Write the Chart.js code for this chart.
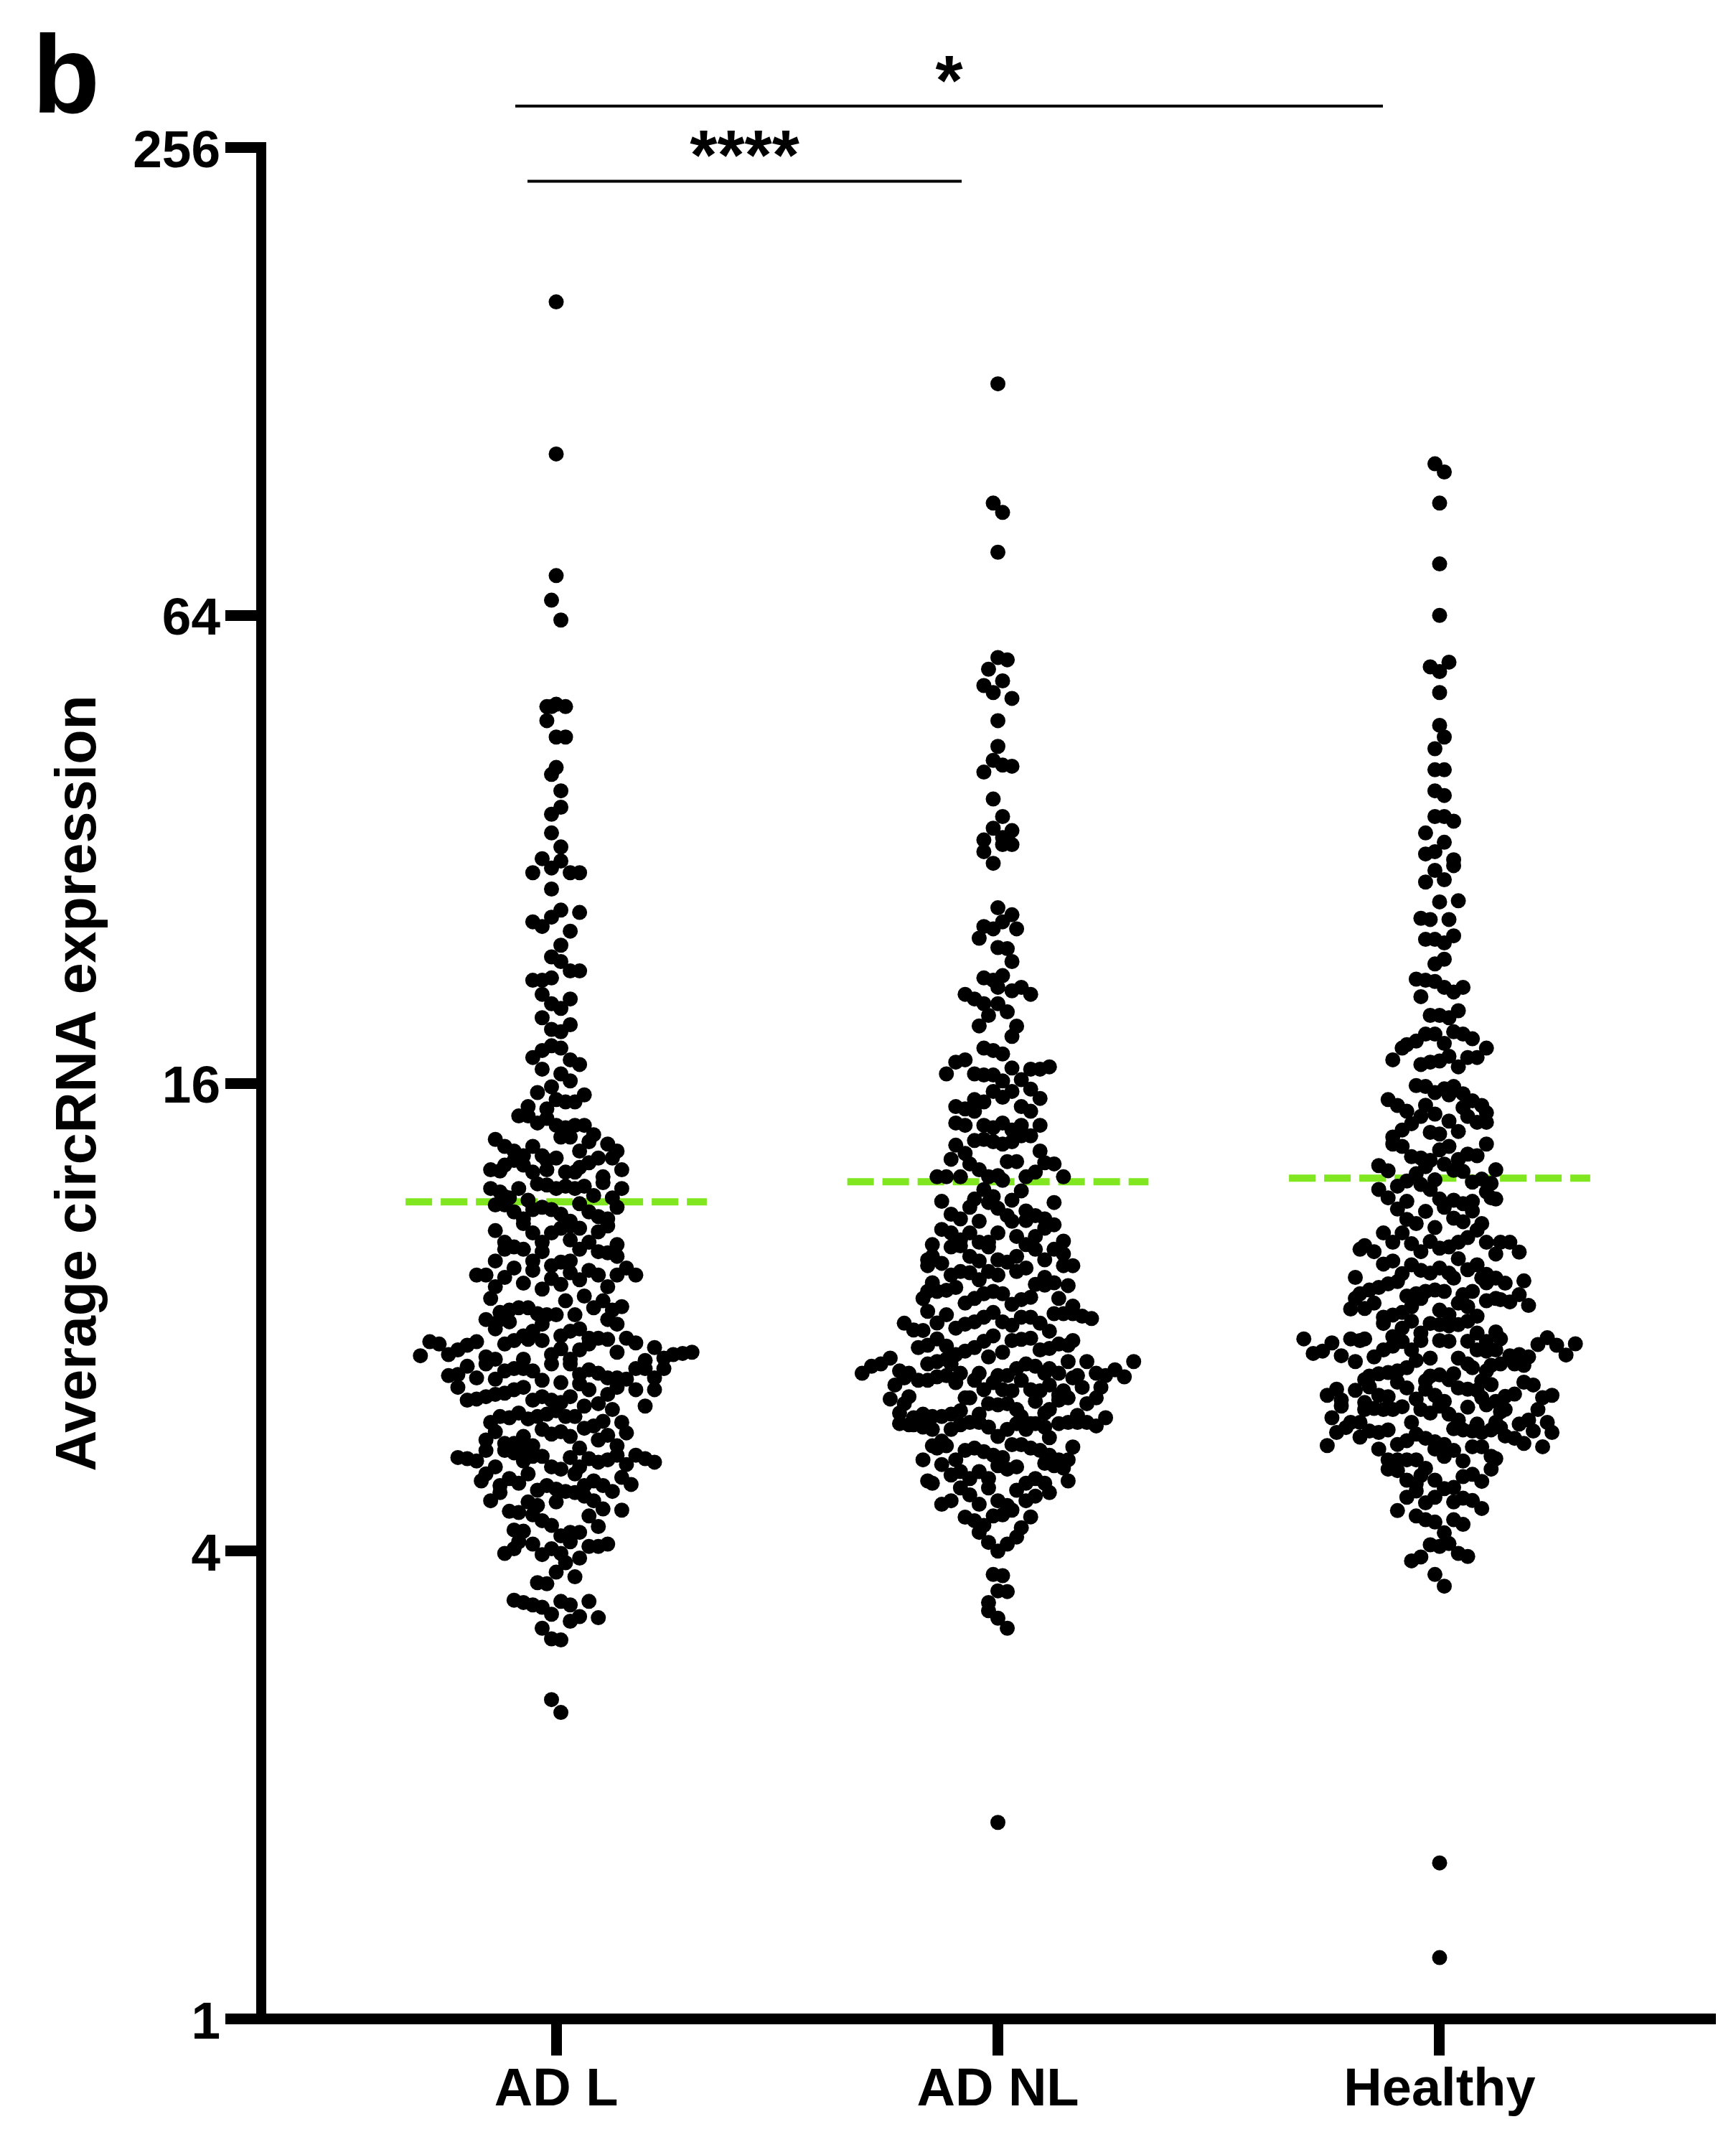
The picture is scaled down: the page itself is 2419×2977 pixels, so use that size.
<!DOCTYPE html>
<html><head><meta charset="utf-8"><style>html,body{margin:0;padding:0;background:#fff}canvas{display:block}</style>
<script src="https://cdn.jsdelivr.net/npm/chart.js@4"></script></head><body>
<canvas id="c" width="2419" height="2977"></canvas>
<script>
const categories = ["AD L","AD NL","Healthy"];
const yTicks = [1,4,16,64,256];
const medians = [11.26,11.95,12.08];
const yTitle = "Average circRNA expression";
const panelLabel = "b";
// each pair: [swarm slot beside the group centre, log2(expression)]
const adL = [[0,7.34],[0,6.69],[0,6.17],[-1,6.065],[1,5.98],[0,5.62],[-2,5.61],[2,5.61],[-1,5.61],[-2,5.55],[0,5.48],[2,5.48],[0,5.35],[-1,5.32],[1,5.25],[1,5.18],[-1,5.15],[-1,5.07],[1,5.01],[-3,4.96],[1,4.95],
[-5,4.90],[-1,4.92],[3,4.90],[5,4.90],[-1,4.83],[1,4.74],[-1,4.71],[5,4.73],[-5,4.69],[-3,4.67],[3,4.65],[1,4.59],[-1,4.54],[1,4.52],[3,4.48],[5,4.48],[-5,4.44],[-3,4.44],[-1,4.45],[-3,4.38],[-1,4.34],[1,4.32],[3,4.36],[-3,4.28],[-1,4.23],[1,4.22],[3,4.25],[-1,4.16],[1,4.15],[-3,4.14],[-5,4.11],[3,4.10],[5,4.08],[-3,4.06],[1,4.04],[3,4.01],[-1,3.985],[-4,3.96],[6,3.95],[0,3.93],[2,3.92],[4,3.92],[-6,3.90],[-2,3.89],[-8,3.86],[-6,3.86],[-4,3.83],[-2,3.85],[0,3.82],[2,3.81],[4,3.82],[6,3.82],[1,3.77],[3,3.77],[8,3.78],[7,3.75],[5,3.71],[-13,3.76],[-11,3.73],[-9,3.71],[-7,3.69],[-5,3.73],[11,3.74],[13,3.71],[12,3.68],[-3,3.69],[0,3.68],[-2,3.67],[9,3.68],[7,3.66],[5,3.64],[4,3.62],[2,3.62],[-9,3.67],[-11,3.65],[-14,3.63],[-12,3.625],[-7,3.65],[-5,3.62],[-2,3.63],[14,3.63],[10,3.60],[10,3.575],[-4,3.57],[-2,3.565],[0,3.55],[2,3.56],[4,3.55],[6,3.56],[-14,3.55],[-12,3.535],[-8,3.55],[14,3.55],[8,3.52],[12,3.51],[-10,3.51],
[-13,3.48],[-11,3.515],[-11,3.48],[-9,3.45],[-7,3.42],[-6,3.50],[-5,3.46],[-3,3.47],[-1,3.46],[1,3.44],[3,3.41],[5,3.485],[7,3.45],[9,3.43],[11,3.42],[13,3.47],
[-13,3.37],[-7,3.40],[-5,3.36],[-1,3.36],[1,3.38],[3,3.39],[5,3.38],[9,3.365],[11,3.39],[-11,3.32],[-9,3.30],[-7,3.29],[-11,3.29],[-3,3.32],[-3,3.28],[3,3.33],[7,3.32],[5,3.29],[9,3.28],[13,3.31],[11,3.275],[13,3.26],[-13,3.24],[-5,3.24],[3,3.24],[1,3.235],[-1,3.22],[-9,3.21],[-5,3.20],[7,3.20],[9,3.18],[15,3.21],[-11,3.17],[-17,3.18],[-15,3.18],[-1,3.165],[3,3.19],[13,3.18],[17,3.18],[5,3.16],[-13,3.13],[-7,3.145],[1,3.14],[-3,3.12],[11,3.13],[6,3.09],[-14,3.08],[2,3.07],[10,3.07],[14,3.045],[8,3.04],[12,3.03],[-12,3.02],[-10,3.03],[-8,3.04],[-6,3.04],[-4,3.015],[-2,3.01],[0,3.01],[4,3.01],[-15,2.99],[-10,2.98],[-12,2.99],[11,2.99],[13,2.97],[-13,2.95],[-3,2.97],[-5,2.94],[5,2.95],[-7,2.92],[-9,2.90],[-11,2.885],[-3,2.90],[1,2.92],[3,2.94],[7,2.91],[9,2.91],[11,2.905],[15,2.91],[17,2.89],[-27,2.895],[-25,2.885],[-17,2.895],[-19,2.88],[-21,2.86],[-23,2.84],[-29,2.835],[-6,2.905],[1,2.865],[5,2.86],[7,2.885],[13,2.85],[21,2.87],[29,2.85],[27,2.845],[25,2.84],[23,2.825],[-15,2.83],[-13,2.82],[-7,2.82],[-1,2.84],[3,2.82],[19,2.815],[-15,2.80],[-1,2.80],[3,2.80],[23,2.78],[17,2.78],[19,2.78],[-19,2.79],[-21,2.755],[-23,2.75],[-9,2.78],[-7,2.78],[-11,2.77],[-5,2.77],[7,2.775],[9,2.76],[5,2.755],[-17,2.74],[-13,2.735],[-3,2.73],[1,2.72],[21,2.74],[11,2.74],[13,2.74],[15,2.735],[-21,2.70],[-7,2.70],[-9,2.69],[-11,2.675],[-13,2.67],[-15,2.66],[-17,2.65],[-19,2.645],[21,2.69],[17,2.69],[13,2.70],[5,2.715],[7,2.69],[11,2.67],[3,2.66],[-5,2.645],[-3,2.66],[-1,2.645],[1,2.635],[9,2.63],[6,2.62],[12,2.605],[19,2.62],[0,2.60],[-2,2.585],[-4,2.575],[-6,2.565],[-8,2.59],[-10,2.57],[-12,2.575],[-14,2.55],[2,2.575],[4,2.575],[10,2.555],[8,2.535],[6,2.525],[14,2.55],[15,2.505],[-3,2.52],[-1,2.50],[1,2.51],[3,2.49],[-13,2.51],[-7,2.49],[-15,2.475],[11,2.495],[9,2.475],[-9,2.46],[-11,2.46],[-5,2.45],[5,2.44],[13,2.45],[-15,2.43],[-11,2.43],[-9,2.42],[-8,2.455],[-6,2.42],[-7,2.385],[-3,2.405],[-5,2.405],[-21,2.40],[-19,2.395],[-17,2.385],[3,2.40],[7,2.395],[9,2.38],[11,2.39],[13,2.41],[17,2.41],[19,2.395],[21,2.38],[15,2.37],[-13,2.36],[-15,2.33],[-16,2.30],[-1,2.36],[1,2.35],[5,2.36],[4,2.33],[-6,2.33],[-10,2.31],[-12,2.28],[-8,2.29],[14,2.315],[16,2.285],[-4,2.26],[-2,2.28],[0,2.265],[2,2.255],[4,2.25],[6,2.28],[8,2.30],[10,2.28],[12,2.255],[-12,2.25],[-14,2.215],[-6,2.21],[-4,2.195],[0,2.21],[6,2.235],[8,2.215],[10,2.18],[14,2.175],[-10,2.17],[-8,2.165],[-5,2.155],[-3,2.13],[-1,2.11],[7,2.15],[9,2.105],[-9,2.09],[-7,2.085],[3,2.08],[5,2.08],[1,2.065],[3,2.04],[-8,2.04],[-5,2.03],[-9,2.01],[-11,1.99],[-1,2.01],[-3,1.985],[1,1.99],[7,2.02],[9,2.02],[11,2.03],[5,1.97],[2,1.95],[0,1.91],[4,1.89],[-4,1.865],[-2,1.86],[-9,1.79],[-7,1.78],[-5,1.77],[-3,1.76],[1,1.785],[3,1.77],[7,1.785],[-1,1.73],[5,1.72],[3,1.70],[9,1.715],[-3,1.67],[-1,1.625],[1,1.62],[-1,1.365],[1,1.31]];
const adNL = [[0,6.99],[-1,6.48],[1,6.44],[0,6.27],[0,5.82],[2,5.81],[-2,5.77],[1,5.72],[-3,5.70],[-1,5.67],[3,5.645],[0,5.55],[0,5.44],[-1,5.38],[1,5.36],[3,5.355],[-3,5.33],[-1,5.215],[1,5.14],[-1,5.09],[3,5.08],[-3,5.04],[1,5.05],[1,5.02],[3,5.02],[-3,4.99],[-1,4.94],[0,4.75],[3,4.72],[1,4.69],[-3,4.67],[-1,4.66],[4,4.66],[-4,4.62],[0,4.58],[2,4.575],[3,4.52],[-3,4.45],[-1,4.44],[1,4.46],[0,4.41],[3,4.395],[5,4.41],[7,4.38],[-7,4.38],[-5,4.36],[-3,4.34],[0,4.34],
[-2,4.29],[2,4.305],[-4,4.245],[4,4.244],[3,4.20],[-3,4.15],[-1,4.14],[1,4.125],[-9,4.09],[-7,4.10],[3,4.065],[11,4.07],[7,4.06],[9,4.06],[-11,4.04],[-5,4.04],[-3,4.035],[-1,4.035],[1,4.01],[5,4.015],[-1,3.965],[1,3.94],[3,3.965],[7,3.975],[9,3.935],[-5,3.93],[-3,3.92],[-9,3.90],[-7,3.89],[-5,3.88],[5,3.90],[7,3.88],[-9,3.83],[-7,3.82],[1,3.83],[-3,3.82],[-1,3.81],[5,3.82],[9,3.82],[3,3.80],[7,3.775],[5,3.775],[-5,3.755],[-3,3.76],[-1,3.75],[1,3.74],[3,3.75],[-9,3.735],[-7,3.70],[9,3.71],[-10,3.675],[2,3.665],[4,3.665],[-6,3.655],[-4,3.63],[10,3.66],[12,3.655],[8,3.62],[6,3.60],[-13,3.60],[-11,3.60],[-8,3.60],[-2,3.60],[0,3.605],[1,3.585],[14,3.60],[-3,3.545],[5,3.54],[-1,3.515],[-5,3.505],[-6,3.47],[-12,3.495],[3,3.50],[12,3.49],[-2,3.49],[0,3.465],[6,3.454],[-10,3.44],[-8,3.42],[-4,3.41],[2,3.434],[8,3.434],[10,3.42],[3,3.41],[12,3.395],[10,3.38],[6,3.413],[-12,3.375],[-10,3.36],[-6,3.36],[0,3.36],[4,3.345],[8,3.345],[-8,3.33],[14,3.325],[-14,3.31],[-10,3.30],[-8,3.305],[-4,3.32],[-2,3.32],[-2,3.30],[6,3.31],[8,3.29],[12,3.29],[14,3.27],[-14,3.26],[-15,3.245],[-15,3.22],[-6,3.26],[-4,3.24],[0,3.245],[2,3.235],[4,3.26],[10,3.245],[-12,3.23],[14,3.22],[16,3.22],[-8,3.195],[-6,3.19],[-10,3.18],[-2,3.195],[0,3.18],[4,3.195],[6,3.21],[-4,3.16],[10,3.17],[12,3.147],[8,3.14],[10,3.137],[-14,3.147],[15,3.135],[-15,3.11],[-9,3.127],[-11,3.115],[-13,3.11],[-1,3.11],[1,3.10],[-3,3.10],[-16,3.08],[-5,3.08],[-7,3.06],[7,3.085],[5,3.075],[3,3.055],[13,3.08],[-15,3.025],[-11,3.01],[-13,2.975],[16,3.047],[12,3.015],[14,3.015],[16,3.015],[18,3.004],[20,2.994],[-1,3.02],[-3,3.0],[-5,2.98],[-7,2.97],[-9,2.953],[5,3.0],[7,3.0],[1,2.98],[3,2.965],[9,2.974],[11,2.94],[-20,2.974],[-18,2.945],[-16,2.943],[-1,2.92],[-3,2.897],[7,2.91],[5,2.905],[3,2.90],[16,2.90],[15,2.88],[13,2.885],[11,2.866],[9,2.86],[-13,2.907],[-15,2.88],[-17,2.87],[-11,2.876],[-5,2.87],[-7,2.855],[-2,2.83],[1,2.85],[-9,2.84],[-23,2.825],
[29,2.81],[15,2.81],[19,2.81],[-27,2.79],[-25,2.80],[-29,2.76],[6,2.80],[8,2.79],[4,2.78],[11,2.78],[-15,2.80],[-13,2.81],[-11,2.82],[-10,2.80],[-21,2.77],[-19,2.76],[-8,2.76],[-4,2.76],[0,2.75],[2,2.75],[10,2.76],[13,2.76],[17,2.75],[21,2.76],[23,2.75],[25,2.775],[27,2.745],[-11,2.75],[-13,2.745],[-15,2.73],[-17,2.73],[-20,2.74],[-22,2.71],[-5,2.73],[-9,2.72],[-1,2.72],[5,2.73],[11,2.71],[16,2.74],[18,2.70],[22,2.70],[-3,2.69],[1,2.69],[3,2.685],[7,2.69],[9,2.685],[14,2.685],[-19,2.66],[-23,2.65],[-7,2.655],[-6,2.655],[21,2.655],[13,2.666],[15,2.655],[-2,2.63],[0,2.625],[2,2.63],[8,2.64],[13,2.645],[11,2.605],[19,2.63],[-20,2.63],[4,2.605],[10,2.59],[-8,2.60],[-10,2.585],[-12,2.575],[-16,2.585],[-14,2.575],[-21,2.59],[5,2.575],[-4,2.585],[17,2.58],[23,2.57],[-18,2.57],[-21,2.545],[-19,2.54],[-18,2.54],[-16,2.53],[-14,2.52],[-6,2.55],[-8,2.54],[-10,2.52],[-4,2.55],[-2,2.53],[0,2.49],[2,2.52],[4,2.545],[7,2.545],[6,2.52],[8,2.545],[10,2.53],[13,2.545],[15,2.55],[17,2.55],[19,2.55],[21,2.535],[11,2.485],[-12,2.47],[-14,2.45],[-11,2.45],[-13,2.44],[3,2.455],[5,2.455],[7,2.44],[16,2.445],[9,2.43],[-5,2.44],[-7,2.43],[-3,2.425],[-1,2.41],[1,2.40],[11,2.41],[13,2.39],[15,2.39],[-9,2.39],[-16,2.39],[-12,2.37],[10,2.375],[12,2.365],[14,2.355],[0,2.365],[2,2.35],[4,2.36],[-10,2.325],[-8,2.34],[-4,2.34],[-6,2.31],[-2,2.31],[8,2.31],[15,2.30],[-15,2.30],[-14,2.29],[6,2.29],[10,2.29],[-2,2.27],[-8,2.27],[4,2.26],[11,2.25],[-6,2.24],[8,2.235],[6,2.215],[0,2.215],[-10,2.215],[-12,2.20],[-4,2.20],[2,2.195],[3,2.175],[1,2.155],[-1,2.15],[7,2.146],[-7,2.145],[-5,2.13],[-3,2.11],[-4,2.08],[5,2.10],[4,2.06],[2,2.03],[-2,2.037],[0,2.00],[-1,1.90],[1,1.895],[0,1.83],[2,1.827],[-2,1.78],[-2,1.745],[0,1.713],[2,1.67],[0,0.84]];
const healthy = [[-1,6.648],[1,6.613],[0,6.48],[0,6.22],[0,6.00],[-2,5.78],[2,5.80],[0,5.76],[0,5.67],[0,5.53],[1,5.48],[-1,5.43],[-1,5.34],[1,5.34],[-1,5.25],[1,5.23],[-1,5.14],[1,5.14],[3,5.12],[-3,5.07],[1,5.03],[-3,4.98],[-1,4.99],[3,4.955],[3,4.93],[-1,4.91],[1,4.87],[-3,4.86],[0,4.775],[4,4.78],[-4,4.705],[-2,4.70],[2,4.70],[-3,4.615],[-1,4.615],[3,4.63],[1,4.60],[1,4.53],[-1,4.51],[-5,4.445],[-3,4.44],[-1,4.435],[1,4.41],[5,4.41],[3,4.39],[-4,4.37],[4,4.31],[-2,4.29],[0,4.29],[2,4.28],[-3,4.21],[-1,4.21],[3,4.22],[5,4.21],[7,4.19],[1,4.17],[-5,4.18],[-7,4.165],[-8,4.15],[10,4.15],[-10,4.10],[2,4.115],[8,4.11],[6,4.11],[0,4.095],[-2,4.09],[-4,4.08],[4,4.07],
[-5,3.99],[-3,3.986],[-1,3.96],[1,3.976],[3,3.986],[2,3.95],[5,3.955],[-11,3.93],[-9,3.905],[-7,3.88],[-3,3.906],[7,3.925],[9,3.905],[5,3.896],[10,3.874],[-1,3.868],[-4,3.858],[6,3.858],[2,3.838],[8,3.833],[10,3.833],[-6,3.827],[-8,3.80],[4,3.794],[-2,3.79],[0,3.783],[-10,3.77],[-10,3.74],[-8,3.73],[10,3.74],[2,3.73],[0,3.715],[8,3.69],[6,3.697],[-6,3.686],[-4,3.68],[-2,3.67],[4,3.674],[-13,3.648],[1,3.654],[-3,3.643],[-11,3.626],[3,3.628],[5,3.623],[12,3.63],[-5,3.613],[9,3.59],[7,3.577],[11,3.572],[-1,3.587],[-7,3.582],[-4,3.567],[-9,3.56],[-13,3.546],[-2,3.546],[10,3.536],[-11,3.51],[0,3.505],[12,3.505],[11,3.51],[-7,3.495],[3,3.50],[7,3.495],[5,3.485],[-9,3.462],[1,3.47],[-3,3.452],[7,3.454],[3,3.423],[5,3.408],[-7,3.418],[-5,3.40],[9,3.40],[-1,3.383],[8,3.372],[-12,3.36],[-8,3.36],[6,3.34],[-10,3.32],[-6,3.314],[-2,3.323],[4,3.32],[10,3.32],[15,3.32],[13,3.32],[-17,3.29],[-16,3.306],[-14,3.28],[-4,3.28],[0,3.295],[2,3.30],[12,3.27],[17,3.278],[4,3.25],[-10,3.24],[-12,3.227],[-6,3.224],[-4,3.20],[-2,3.188],[0,3.21],[2,3.188],[3,3.167],[8,3.224],[6,3.203],[10,3.183],[12,3.167],[-18,3.17],[-8,3.186],[18,3.155],[9,3.168],[14,3.145],[10,3.147],[-9,3.152],[-11,3.142],[-13,3.127],[-15,3.116],[-17,3.10],[-18,3.08],[1,3.11],[-1,3.116],[-3,3.11],[-5,3.10],[-7,3.09],[7,3.11],[5,3.096],[-4,3.08],[17,3.096],[10,3.07],[12,3.08],[13,3.075],[15,3.065],[4,3.06],[6,3.045],[19,3.05],[-14,3.06],[-16,3.037],[-19,3.035],[-6,3.045],[0,3.03],[-8,3.02],[-10,3.009],[-12,3.0],[2,3.01],[8,3.004],[-6,2.983],[-12,2.973],[6,2.983],[4,2.968],[-2,2.973],[0,2.968],[2,2.963],[-8,2.953],[8,2.932],[12,2.937],[-4,2.932],[-29,2.907],[-23,2.89],[-19,2.907],[-17,2.90],[-16,2.907],[-10,2.917],[13,2.907],[6,2.897],[0,2.90],[2,2.897],[-4,2.90],[-8,2.896],[10,2.896],[23,2.912],[21,2.883],[29,2.886],[25,2.88],
[-27,2.845],[-25,2.855],[-21,2.835],[-18,2.81],[-14,2.83],[-12,2.86],[-10,2.876],[-6,2.86],[-5,2.815],[-2,2.825],[4,2.825],[6,2.80],[7,2.784],[8,2.86],[10,2.855],[12,2.86],[27,2.838],[19,2.83],[17,2.84],[15,2.835],[13,2.80],[18,2.794],[16,2.80],[11,2.794],[10,2.77],[-7,2.784],[-9,2.77],[-11,2.763],[-13,2.758],[-15,2.748],[-16,2.733],[-2,2.748],[0,2.753],[3,2.758],[2,2.733],[-3,2.727],[9,2.727],[11,2.712],[18,2.722],[20,2.71],[-9,2.722],[-15,2.702],[-3,2.692],[4,2.697],[6,2.692],[8,2.687],[-7,2.697],[-22,2.692],[-18,2.687],[-24,2.666],[-13,2.666],[-11,2.66],[16,2.671],[14,2.661],[24,2.666],[22,2.656],[-1,2.666],[9,2.656],[-5,2.65],[-21,2.646],[12,2.64],[-16,2.635],[1,2.64],[-21,2.62],[10,2.625],[6,2.615],[-8,2.617],[-10,2.605],[-12,2.605],[-14,2.61],[-16,2.605],[0,2.62],[-4,2.605],[14,2.605],[21,2.605],[-2,2.59],[2,2.585],[13,2.595],[-23,2.57],[4,2.56],[-6,2.55],[19,2.56],[23,2.55],[-19,2.55],[-17,2.55],[12,2.55],[8,2.543],[17,2.543],[3,2.523],[5,2.518],[7,2.513],[9,2.507],[11,2.518],[13,2.528],[-20,2.528],[-22,2.507],[-15,2.513],[-13,2.507],[-11,2.518],[20,2.513],[24,2.507],[-5,2.50],[-17,2.487],[14,2.492],[16,2.482],[-3,2.482],[-1,2.467],[-7,2.472],[-9,2.456],[-24,2.451],[18,2.46],[22,2.446],[1,2.456],[3,2.43],[7,2.446],[9,2.446],[-13,2.436],[-1,2.436],[1,2.405],[11,2.405],[12,2.395],[-11,2.39],[-9,2.39],[-7,2.39],[-5,2.39],[5,2.385],[-3,2.354],[-11,2.35],[-9,2.344],[11,2.35],[5,2.318],[7,2.328],[-4,2.323],[-7,2.303],[-1,2.303],[9,2.298],[-5,2.288],[3,2.272],[1,2.267],[-5,2.257],[-1,2.23],[5,2.226],[-7,2.23],[-3,2.206],[3,2.21],[7,2.216],[9,2.182],[-9,2.173],[-5,2.15],[-3,2.134],[-1,2.124],[3,2.134],[5,2.114],[1,2.078],[-2,2.027],[0,2.02],[2,2.032],[4,1.99],[6,1.977],[-4,1.975],[-6,1.958],[-1,1.90],[1,1.85],[0,0.667],[0,0.262]];
const groups = [adL, adNL, healthy];
const slotWidth = 0.0106;            // category units per swarm slot
const medianHalfWidth = 0.341;
const brackets = [{from:-0.0926,to:1.8717,y:289.5,label:"*"},{from:-0.065,to:0.918,y:231.7,label:"****"}];

const swarmSets = groups.map((g,i)=>({
  label:categories[i], data:g.map(([s,v])=>({x:i+s*slotWidth,y:Math.pow(2,v)})),
  pointRadius:10.5, pointBackgroundColor:"#000", pointBorderWidth:0, showLine:false, clip:false, order:0
}));
const medianSets = medians.map((m,i)=>({
  label:categories[i]+" median", data:[{x:i-medianHalfWidth,y:m},{x:i+medianHalfWidth,y:m}],
  showLine:true, borderColor:"#7fe620", borderWidth:10, borderDash:[37,12], borderCapStyle:"butt", pointRadius:0, clip:false, order:1
}));
const bracketSets = brackets.map(b=>({
  label:b.label, data:[{x:b.from,y:b.y},{x:b.to,y:b.y}],
  showLine:true, borderColor:"#000", borderWidth:4, pointRadius:0, clip:false, order:2
}));
const annotations = {
  id:"annotations",
  afterDraw(chart){
    const {ctx,scales:{x,y}}=chart;
    ctx.save();
    ctx.fillStyle="#000";
    // square off the top of the y axis line so it meets the top tick
    const yl=chart.chartArea.left, yt=y.getPixelForValue(256);
    ctx.fillRect(yl-7,yt-7.5,14,15);
    // y tick labels, with the digits centred on their tick marks
    ctx.textAlign="right"; ctx.textBaseline="alphabetic";
    ctx.font='bold 73px "Liberation Sans"';
    yTicks.forEach(t=>ctx.fillText(String(t),yl-57,y.getPixelForValue(t)+27));
    ctx.textAlign="center";
    ctx.font='bold 98px "Liberation Sans"';
    brackets.forEach(b=>ctx.fillText(b.label,x.getPixelForValue((b.from+b.to)/2),y.getPixelForValue(b.y)-2));
    ctx.textAlign="left";
    ctx.font='bold 154px "Liberation Sans"';
    ctx.fillText(panelLabel,45,157);
    ctx.restore();
  }
};
new Chart(document.getElementById("c"),{
  type:"scatter",
  data:{datasets:[...swarmSets,...medianSets,...bracketSets]},
  plugins:[annotations],
  options:{
    responsive:false, animation:false, devicePixelRatio:1,
    layout:{padding:{top:205.5,right:29,left:0,bottom:0}},
    plugins:{legend:{display:false},tooltip:{enabled:false}},
    scales:{
      x:{type:"linear",min:-0.6678,max:2.6239,
        afterBuildTicks(s){s.ticks=categories.map((_,i)=>({value:i}));},
        afterFit(s){s.height=164.5;},
        border:{color:"#000",width:15},
        grid:{drawOnChartArea:false,drawTicks:true,tickLength:51,tickWidth:15,tickColor:"#000"},
        ticks:{autoSkip:false,maxRotation:0,padding:5,color:"#000",font:{family:'"Liberation Sans"',weight:"bold",size:74},callback:v=>categories[v]}
      },
      y:{type:"logarithmic",min:1,max:256,
        afterBuildTicks(s){s.ticks=yTicks.map(value=>({value}));},
        afterFit(s){s.width=364;},
        border:{color:"#000",width:14},
        grid:{drawOnChartArea:false,drawTicks:true,tickLength:50,tickWidth:15,tickColor:"#000"},
        title:{display:true,text:yTitle,color:"#000",font:{family:'"Liberation Sans"',weight:"bold",size:79,lineHeight:1.2},padding:{top:64,bottom:0}},
        ticks:{display:false,autoSkip:false,callback:v=>String(v)}
      }
    }
  }
});
</script></body></html>
